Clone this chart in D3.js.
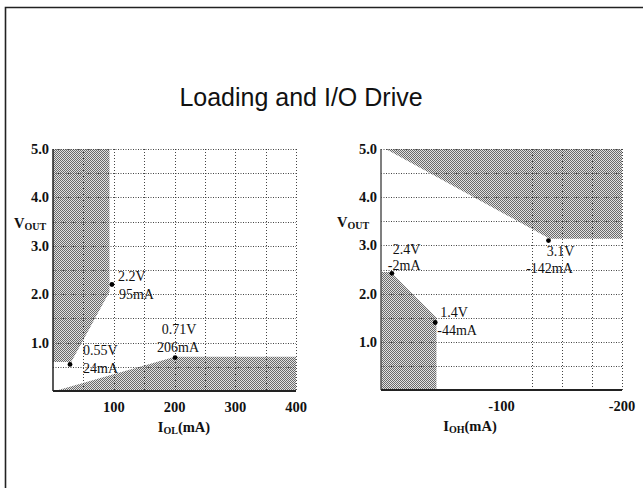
<!DOCTYPE html>
<html><head><meta charset="utf-8">
<script src="https://cdn.jsdelivr.net/npm/d3@7"></script>
<style>
html,body{margin:0;padding:0;background:#fff;}
svg{display:block;}
</style></head>
<body>
<svg id="chart" width="643" height="488"></svg>
<script>
// ---------------- data ----------------
const titleText = "Loading and I/O Drive";
const yTicks = [1.0, 2.0, 3.0, 4.0, 5.0];
const yGrid = [0.5, 1.0, 1.5, 2.0, 2.5, 3.0, 3.5, 4.0, 4.5, 5.0];

// left panel (I_OL)
const olTicks = [100, 200, 300, 400];
const olGrid = [50, 100, 150, 200, 250, 300, 350, 400];
const olUpperRegion = [[0, 5.0], [93, 5.0], [93, 2.05], [30, 0.6], [0, 0.6]];
const olLowerRegion = [[0, 0], [3, 0], [201, 0.71], [400, 0.71], [400, 0]];
const olPoints = [[97, 2.2], [28, 0.55], [201, 0.69]];
const olLabels = [["2.2V", "95mA"], ["0.55V", "24mA"], ["0.71V", "206mA"]];

// right panel (I_OH)
const ohTicks = [-100, -200];
const ohGrid = [-125, -150, -175, -200];
const ohUpperRegion = [[-4, 5.0], [-200, 5.0], [-200, 3.14], [-140, 3.14]];
const ohLowerRegion = [[0, 2.45], [-8, 2.45], [-46, 1.5], [-46, 0], [0, 0]];
const ohPoints = [[-9, 2.42], [-45, 1.4], [-139, 3.1]];
const ohLabels = [["2.4V", "-2mA"], ["1.4V", "-44mA"], ["3.1V", "-142mA"]];

// ---------------- drawing ----------------
const svg = d3.select("#chart");
const serif = "'Liberation Serif','Times New Roman',serif";

// pattern for shaded regions
const defs = svg.append("defs");
const pat = defs.append("pattern").attr("id", "dither")
  .attr("patternUnits", "userSpaceOnUse").attr("width", 2).attr("height", 2);
pat.append("rect").attr("width", 2).attr("height", 2).attr("fill", "#e2e2e2");
pat.append("rect").attr("x", 0).attr("y", 0).attr("width", 1).attr("height", 1).attr("fill", "#6a6a6a");
pat.append("rect").attr("x", 1).attr("y", 1).attr("width", 1).attr("height", 1).attr("fill", "#6a6a6a");

// frame (left & top edges only)
svg.append("path").attr("d", "M5.5,488 L5.5,7.5 L643,7.5")
  .attr("fill", "none").attr("stroke", "#222").attr("stroke-width", 1.6);

// title
svg.append("text").attr("x", 301).attr("y", 106).attr("text-anchor", "middle")
  .attr("font-family", "'Liberation Sans',Arial,Helvetica,sans-serif")
  .attr("font-size", 25).attr("fill", "#111").text(titleText);

function drawPanel(cfg) {
  const x = d3.scaleLinear().domain(cfg.xDomain).range([cfg.left, cfg.right]);
  const y = d3.scaleLinear().domain([0, 5]).range([cfg.bottom, cfg.top]);
  const g = svg.append("g");
  const line = d3.line().x(d => x(d[0])).y(d => y(d[1]));

  // shaded regions
  cfg.regions.forEach(r => {
    g.append("path").attr("d", line(r) + "Z").attr("fill", "url(#dither)");
  });

  // grid lines
  g.selectAll(".hg").data(yGrid).join("line")
    .attr("x1", cfg.left).attr("x2", cfg.right)
    .attr("y1", d => Math.round(y(d)) + 0.5).attr("y2", d => Math.round(y(d)) + 0.5)
    .attr("stroke", "#444").attr("stroke-width", 1).attr("stroke-dasharray", "1,1.5");
  g.selectAll(".vg").data(cfg.xGrid).join("line")
    .attr("x1", d => Math.round(x(d)) + 0.5).attr("x2", d => Math.round(x(d)) + 0.5)
    .attr("y1", cfg.top).attr("y2", cfg.bottom)
    .attr("stroke", "#444").attr("stroke-width", 1).attr("stroke-dasharray", "1,2");

  // axes lines (left and bottom solid)
  g.append("line").attr("x1", cfg.left).attr("x2", cfg.left).attr("y1", cfg.top).attr("y2", cfg.bottom)
    .attr("stroke", cfg.leftAxisColor).attr("stroke-width", 1.5);
  g.append("line").attr("x1", cfg.left).attr("x2", cfg.right).attr("y1", cfg.bottom).attr("y2", cfg.bottom)
    .attr("stroke", "#222").attr("stroke-width", 1.8);

  // y tick labels
  g.selectAll(".yt").data(yTicks).join("text")
    .attr("x", cfg.left - 4).attr("y", d => y(d) + 5)
    .attr("text-anchor", "end").attr("font-family", serif).attr("font-weight", "bold")
    .attr("font-size", 14.5).attr("fill", "#111").text(d => d3.format(".1f")(d));

  // x tick labels
  g.selectAll(".xt").data(cfg.xTicks).join("text")
    .attr("x", d => x(d)).attr("y", cfg.bottom + 21)
    .attr("text-anchor", "middle").attr("font-family", serif).attr("font-weight", "bold")
    .attr("font-size", 14.5).attr("fill", "#111").text(d => d);

  // V_OUT label
  const vt = g.append("text").attr("x", cfg.left - cfg.vOffset).attr("y", y(3.5) + 6)
    .attr("font-family", serif).attr("font-weight", "bold").attr("font-size", 14.5).attr("fill", "#111");
  vt.append("tspan").text("V");
  vt.append("tspan").attr("font-size", 10).attr("dy", 2).text("OUT");

  // x axis title
  const xt = g.append("text").attr("x", cfg.xTitleX).attr("y", cfg.bottom + 41)
    .attr("text-anchor", "middle").attr("font-family", serif).attr("font-weight", "bold")
    .attr("font-size", 14.5).attr("fill", "#111");
  xt.append("tspan").text("I");
  xt.append("tspan").attr("font-size", 10).attr("dy", 2).text(cfg.sub);
  xt.append("tspan").attr("dy", -2).text("(mA)");

  // points
  g.selectAll(".pt").data(cfg.points).join("circle")
    .attr("cx", d => x(d[0])).attr("cy", d => y(d[1])).attr("r", 2.4).attr("fill", "#000");

  // labels
  cfg.points.forEach((p, i) => {
    const o = cfg.labelOffsets[i];
    const px = x(p[0]), py = y(p[1]);
    cfg.labels[i].forEach((t, j) => {
      g.append("text").attr("x", px + o[j][0]).attr("y", py + o[j][1])
        .attr("text-anchor", o[j][2]).attr("font-family", serif).attr("font-size", 14)
        .attr("fill", "#111").text(t);
    });
  });
}

drawPanel({
  xDomain: [0, 400], left: 53, right: 296, top: 149, bottom: 391,
  xTicks: olTicks, xGrid: olGrid, regions: [olUpperRegion, olLowerRegion],
  points: olPoints, labels: olLabels,
  labelOffsets: [
    [[6, -4, "start"], [7, 14, "start"]],
    [[13, -9, "start"], [13, 9, "start"]],
    [[4, -24, "middle"], [3, -6, "middle"]]
  ],
  vOffset: 39, xTitleX: 184, sub: "OL", leftAxisColor: "#222"
});

drawPanel({
  xDomain: [0, -200], left: 381, right: 622, top: 149, bottom: 390,
  xTicks: ohTicks, xGrid: ohGrid, regions: [ohUpperRegion, ohLowerRegion],
  points: ohPoints, labels: ohLabels,
  labelOffsets: [
    [[1, -19, "start"], [-4, -3, "start"]],
    [[5, -6, "start"], [2, 12, "start"]],
    [[12, 15, "middle"], [1, 32, "middle"]]
  ],
  vOffset: 44, xTitleX: 470, sub: "OH", leftAxisColor: "#555"
});
</script>
</body></html>
